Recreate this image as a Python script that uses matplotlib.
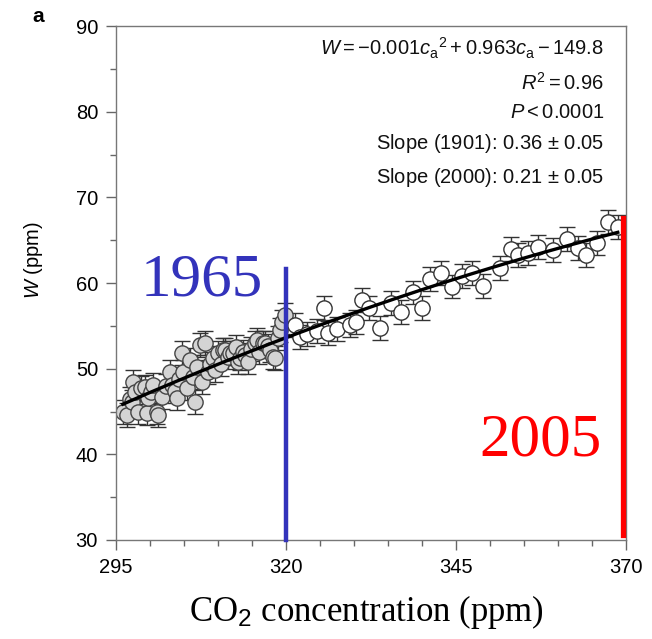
import numpy as np
import matplotlib
matplotlib.use("Agg")
from matplotlib import pyplot as plt
from matplotlib.ticker import MultipleLocator

plt.rcParams['font.family'] = ['Liberation Sans', 'DejaVu Sans']
plt.rcParams['mathtext.fontset'] = 'custom'
plt.rcParams['mathtext.rm'] = 'Liberation Sans'
plt.rcParams['mathtext.it'] = 'Liberation Sans:italic'

# before 1965 (grey circles)
co2_early = [296.0, 296.6, 297.0, 297.4, 297.5, 297.8, 298.2, 298.6, 299.3, 299.6,
             299.7, 300.2, 300.4, 301.0, 301.2, 301.8, 302.3, 302.9, 303.2, 303.6,
             304.0, 304.3, 304.7, 304.9, 305.4, 305.9, 306.3, 306.6, 306.9, 307.4,
             307.6, 308.1, 308.5, 308.8, 309.3, 309.6, 310.0, 310.4, 310.7, 311.0,
             311.5, 311.8, 312.2, 312.6, 312.9, 313.3, 313.6, 314.0, 314.4, 314.9,
             315.4, 315.7, 316.1, 316.6, 316.9, 317.3, 317.6, 318.1, 318.4, 318.8,
             319.1, 319.4, 319.9]
w_early = [45.0, 44.6, 46.5, 46.1, 48.5, 47.3, 45.0, 47.8, 47.9, 44.8,
           46.6, 47.3, 48.1, 45.0, 44.6, 46.7, 48.0, 49.6, 48.1, 47.4,
           46.6, 48.8, 51.8, 49.6, 47.8, 51.0, 49.0, 46.1, 50.2, 52.8,
           48.5, 53.0, 49.6, 50.6, 51.2, 49.8, 51.8, 50.5, 52.2, 52.2,
           51.4, 51.8, 51.8, 52.5, 50.8, 51.2, 52.0, 51.6, 50.8, 52.3,
           53.0, 53.4, 52.0, 53.0, 53.0, 52.6, 52.2, 51.4, 51.3, 53.6,
           54.5, 55.5, 56.3]

# after 1965 (white circles)
co2_late = [321.3, 322.0, 323.1, 324.6, 325.6, 326.2, 327.5, 329.4, 330.3, 331.2,
            332.2, 333.8, 335.4, 336.9, 338.7, 340.0, 341.2, 342.8, 344.4, 345.9,
            347.4, 349.0, 351.5, 353.1, 354.1, 355.6, 357.1, 359.3, 361.3, 362.9,
            364.2, 365.7, 367.4, 368.8]
w_late = [55.1, 53.7, 54.1, 54.4, 57.1, 54.2, 54.6, 55.1, 55.5, 58.0,
          57.1, 54.8, 57.7, 56.6, 58.9, 57.1, 60.5, 61.2, 59.6, 60.8,
          61.2, 59.7, 61.8, 64.0, 63.3, 63.5, 64.2, 63.9, 65.2, 64.1,
          63.3, 64.7, 67.1, 66.6]

err = 1.4

fig = plt.figure(figsize=(6.52, 6.39), dpi=100)
ax = fig.add_axes([0.178, 0.155, 0.782, 0.804])

ax.errorbar(co2_early, w_early, yerr=err, fmt='none', ecolor='#333333',
            elinewidth=1, capsize=6, capthick=1, zorder=1)
ax.errorbar(co2_late, w_late, yerr=err, fmt='none', ecolor='#333333',
            elinewidth=1, capsize=6, capthick=1, zorder=1)
ax.plot(co2_early, w_early, 'o', ms=11, mfc='#d4d4d4', mec='#444444', mew=1, zorder=2)
ax.plot(co2_late, w_late, 'o', ms=11, mfc='white', mec='#333333', mew=1, zorder=2)

# quadratic fit through all points
all_c = np.array(co2_early + co2_late)
all_w = np.array(w_early + w_late)
coef = np.polyfit(all_c, all_w, 2)
cc = np.linspace(all_c.min(), all_c.max(), 200)
ax.plot(cc, np.polyval(coef, cc), color='black', lw=2.4, zorder=3)

ax.plot([320, 320], [30, 61.6], color='#3333bb', lw=3.2, zorder=4, clip_on=False)
ax.plot([369.5, 369.5], [30.6, 67.6], color='#ff0000', lw=3.8, zorder=4, clip_on=False)
ax.text(307.6, 60.3, '1965', color='#3333bb', fontsize=44, family='Liberation Serif',
        ha='center', va='center')
ax.text(357.5, 41.6, '2005', color='#ff0000', fontsize=44, family='Liberation Serif',
        ha='center', va='center')

stats = [r'$W = -0.001c_\mathrm{a}{}^{2} + 0.963c_\mathrm{a} - 149.8$',
         r'$R^2 = 0.96$',
         r'$P < 0.0001$',
         r'Slope (1901): 0.36 $\pm$ 0.05',
         r'Slope (2000): 0.21 $\pm$ 0.05']
ys = [87.4, 83.4, 79.9, 76.3, 72.3]
for s, y in zip(stats, ys):
    ax.text(366.8, y, s, fontsize=14.5, ha='right', va='center', color='#111111')

ax.set_xlim(295, 370)
ax.set_ylim(30, 90)
ax.set_xticks([295, 320, 345, 370])
ax.set_yticks([30, 40, 50, 60, 70, 80, 90])
ax.xaxis.set_minor_locator(MultipleLocator(5))
ax.yaxis.set_minor_locator(MultipleLocator(5))
ax.tick_params(which='major', direction='out', length=7, width=1, color='#666666',
               labelsize=14.5)
ax.tick_params(which='minor', direction='out', length=4, width=1, color='#666666')
ax.tick_params(axis='x', which='major', pad=6)
ax.tick_params(axis='y', which='major', pad=6)
for sp in ax.spines.values():
    sp.set_color('#777777')
    sp.set_linewidth(1)

ax.set_ylabel(r'$W$ (ppm)', fontsize=14.5)
ax.yaxis.set_label_coords(-0.14, 0.545)
fig.text(0.562, 0.042, r'CO$_2$ concentration (ppm)', fontsize=25,
         family='Liberation Serif', ha='center', va='center')
fig.text(0.058, 0.974, 'a', fontsize=15, fontweight='bold', ha='center', va='center')

fig.savefig('out.png', dpi=100)
